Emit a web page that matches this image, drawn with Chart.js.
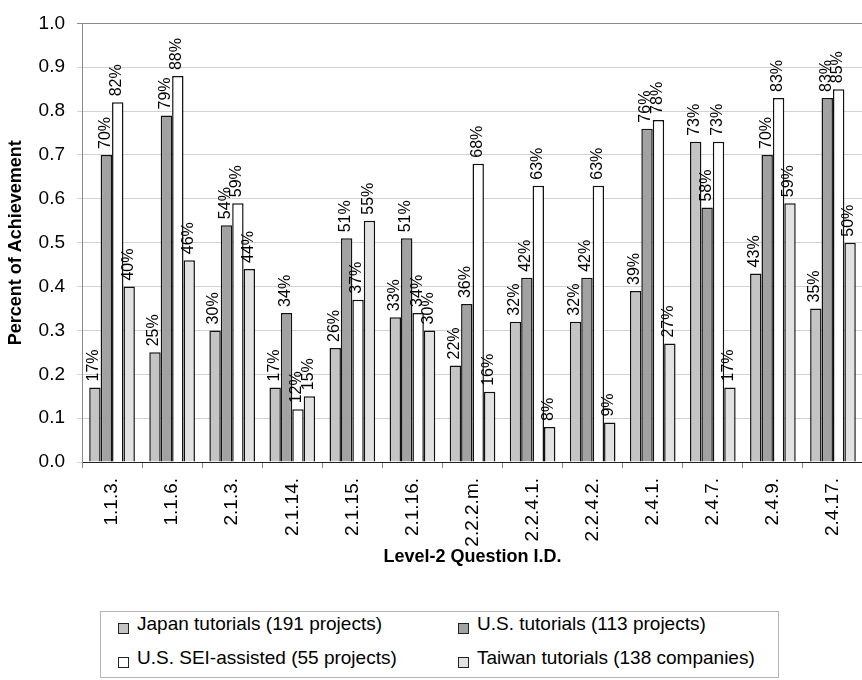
<!DOCTYPE html>
<html>
<head>
<meta charset="utf-8">
<script src="https://cdn.jsdelivr.net/npm/chart.js@4/dist/chart.umd.min.js"></script>
<style>
  html, body { margin: 0; padding: 0; background: #fff; overflow: hidden; }
  #wrap { position: relative; width: 862px; height: 680px; overflow: hidden; }
  #chart { position: absolute; left: 0; top: 0; }
  #legend {
    position: absolute; left: 100px; top: 611px; width: 679px; height: 67px;
    box-sizing: border-box; border: 1px solid #b4b4b4;
    font-family: "Liberation Sans", Arial, sans-serif; font-size: 19px; color: #000;
  }
  .item { position: absolute; white-space: nowrap; line-height: 22px; }
  .swatch { position: absolute; width: 9px; height: 9px; border: 1px solid #222; }
</style>
</head>
<body>
<div id="wrap">
  <canvas id="chart" width="866" height="572" style="width:866px;height:572px"></canvas>
  <div id="legend"></div>
</div>
<script>
// Level-2 question identifiers along the x axis
const questions = ['1.1.3.', '1.1.6.', '2.1.3.', '2.1.14.', '2.1.15.', '2.1.16.', '2.2.2.m.',
                   '2.2.4.1.', '2.2.4.2.', '2.4.1.', '2.4.7.', '2.4.9.', '2.4.17.'];

// Series names
const seriesNames = [
  'Japan tutorials (191 projects)',
  'U.S. tutorials (113 projects)',
  'U.S. SEI-assisted (55 projects)',
  'Taiwan tutorials (138 companies)'
];

// Percent of achievement per question, in percent
const japanPct  = [17, 25, 30, 17, 26, 33, 22, 32, 32, 39, 73, 43, 35];
const usPct     = [70, 79, 54, 34, 51, 51, 36, 42, 42, 76, 58, 70, 83];
const seiPct    = [82, 88, 59, 12, 37, 34, 68, 63, 63, 78, 73, 83, 85];
const taiwanPct = [40, 46, 44, 15, 55, 30, 16,  8,  9, 27, 17, 59, 50];

// Y axis tick values
const yTicks = [0.0, 0.1, 0.2, 0.3, 0.4, 0.5, 0.6, 0.7, 0.8, 0.9, 1.0];

const seriesPct = [japanPct, usPct, seiPct, taiwanPct];
const seriesFill = ['#c4c4c4', '#a2a2a2', '#ffffff', '#e2e2e2'];

const FONT = '"Liberation Sans", Arial, sans-serif';

// Rotated percentage labels above each bar
const barValueLabels = {
  id: 'barValueLabels',
  afterDatasetsDraw(chart) {
    const ctx = chart.ctx;
    ctx.save();
    ctx.font = '16px ' + FONT;
    ctx.fillStyle = '#000';
    ctx.textAlign = 'left';
    ctx.textBaseline = 'middle';
    chart.data.datasets.forEach((ds, di) => {
      const meta = chart.getDatasetMeta(di);
      meta.data.forEach((bar, i) => {
        ctx.save();
        ctx.translate(bar.x - 1, bar.y - 6);
        ctx.rotate(-Math.PI / 2);
        ctx.fillText(ds.pct[i] + '%', 0, 0);
        ctx.restore();
      });
    });
    ctx.restore();
  }
};

const datasets = seriesNames.map((name, k) => ({
  label: name,
  pct: seriesPct[k],
  data: seriesPct[k].map(v => v / 100),
  backgroundColor: seriesFill[k],
  borderColor: '#111',
  borderWidth: 1.5,
  categoryPercentage: 0.76,
  barPercentage: 1.0
}));

const chart = new Chart(document.getElementById('chart'), {
  type: 'bar',
  data: { labels: questions, datasets },
  plugins: [barValueLabels],
  options: {
    responsive: false,
    animation: false,
    layout: { padding: { top: 19, right: 3, left: 0, bottom: 0 } },
    plugins: { legend: { display: false }, tooltip: { enabled: false } },
    scales: {
      x: {
        grid: { drawOnChartArea: false, drawTicks: true, tickLength: 6, color: '#888', offset: true },
        border: { display: true, color: '#222', width: 1 },
        ticks: {
          autoSkip: false, minRotation: 90, maxRotation: 90, padding: 10,
          color: '#000', font: { family: FONT, size: 19 }
        },
        title: {
          display: true, text: 'Level-2 Question I.D.', color: '#000',
          font: { family: FONT, size: 18, weight: 'bold' }, padding: { top: 4, bottom: 4 }
        },
        afterFit(scale) { scale.height = 110; }
      },
      y: {
        min: 0, max: 1,
        afterBuildTicks(scale) { scale.ticks = yTicks.map(v => ({ value: v })); },
        grid: {
          color: ctx => (ctx.tick && ctx.tick.value === 1 ? '#8a8a8a' : '#d2d2d2'),
          lineWidth: 1, tickLength: 5, drawTicks: true
        },
        border: { display: true, color: '#8a8a8a', width: 1 },
        ticks: {
          padding: 12, color: '#000', font: { family: FONT, size: 19 },
          callback: v => Number(v).toFixed(1)
        },
        title: {
          display: true, text: 'Percent of Achievement', color: '#000',
          font: { family: FONT, size: 18, weight: 'bold' }, padding: { top: 5, bottom: 4 }
        },
        afterFit(scale) { scale.width = 82; }
      }
    }
  }
});

// Two-column legend box below the chart
const legend = document.getElementById('legend');
chart.data.datasets.forEach((ds, k) => {
  const col = k % 2, row = Math.floor(k / 2);
  const left = 17 + col * 340;
  const top = 1 + row * 34;
  const sw = document.createElement('div');
  sw.className = 'swatch';
  sw.style.left = left + 'px';
  sw.style.top = (top + 10) + 'px';
  sw.style.background = ds.backgroundColor;
  legend.appendChild(sw);
  const tx = document.createElement('div');
  tx.className = 'item';
  tx.style.left = (left + 19) + 'px';
  tx.style.top = top + 'px';
  tx.textContent = ds.label;
  legend.appendChild(tx);
});
</script>
</body>
</html>
